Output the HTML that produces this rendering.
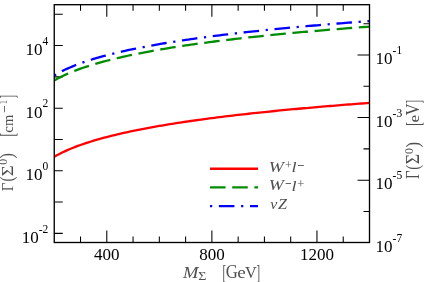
<!DOCTYPE html>
<html><head><meta charset="utf-8"><style>
html,body{margin:0;padding:0;background:#fff;overflow:hidden;}
svg{display:block;will-change:transform;}
text{font-family:"Liberation Serif",serif;}
</style></head><body>
<svg width="424" height="282" viewBox="0 0 424 282">
<rect width="424" height="282" fill="#fff"/>
<defs><clipPath id="c"><rect x="54.25" y="4.7" width="315.25" height="237.80"/></clipPath></defs>
<path d="M54.25 14.25h8.5M54.25 45.55h8.5M54.25 76.85h8.5M54.25 108.15h8.5M54.25 139.45h8.5M54.25 170.75h8.5M54.25 202.05h8.5M54.25 233.35h8.5M369.5 211.45h-6M369.5 180.15h-12M369.5 148.85h-6M369.5 117.55h-12M369.5 86.25h-6M369.5 54.95h-12M369.5 23.65h-6M80.52 242.5v-6M80.52 4.7v6M106.79 242.5v-12M106.79 4.7v12M133.06 242.5v-6M133.06 4.7v6M159.33 242.5v-6M159.33 4.7v6M185.60 242.5v-6M185.60 4.7v6M211.88 242.5v-12M211.88 4.7v12M238.15 242.5v-6M238.15 4.7v6M264.42 242.5v-6M264.42 4.7v6M290.69 242.5v-6M290.69 4.7v6M316.96 242.5v-12M316.96 4.7v12M343.23 242.5v-6M343.23 4.7v6" stroke="#000" stroke-width="1.05" fill="none"/>
<g clip-path="url(#c)" fill="none" stroke-width="2.3">
<path d="M54.25 156.80 L56.88 155.30 L59.50 153.90 L62.13 152.59 L64.76 151.34 L67.39 150.16 L70.01 149.04 L72.64 147.96 L75.27 146.93 L77.89 145.94 L80.52 144.99 L83.15 144.08 L85.78 143.19 L88.40 142.34 L91.03 141.51 L93.66 140.71 L96.28 139.93 L98.91 139.18 L101.54 138.44 L104.16 137.73 L106.79 137.04 L109.42 136.36 L112.05 135.70 L114.67 135.05 L117.30 134.42 L119.93 133.81 L122.55 133.21 L125.18 132.62 L127.81 132.05 L130.44 131.48 L133.06 130.93 L135.69 130.39 L138.32 129.86 L140.94 129.34 L143.57 128.83 L146.20 128.33 L148.82 127.84 L151.45 127.36 L154.08 126.88 L156.71 126.42 L159.33 125.96 L161.96 125.51 L164.59 125.07 L167.21 124.63 L169.84 124.20 L172.47 123.78 L175.10 123.36 L177.72 122.96 L180.35 122.55 L182.98 122.15 L185.60 121.76 L188.23 121.38 L190.86 121.00 L193.49 120.62 L196.11 120.25 L198.74 119.89 L201.37 119.53 L203.99 119.17 L206.62 118.82 L209.25 118.47 L211.88 118.13 L214.50 117.79 L217.13 117.46 L219.76 117.13 L222.38 116.80 L225.01 116.48 L227.64 116.16 L230.26 115.85 L232.89 115.54 L235.52 115.23 L238.15 114.93 L240.77 114.63 L243.40 114.33 L246.03 114.03 L248.65 113.74 L251.28 113.46 L253.91 113.17 L256.54 112.89 L259.16 112.61 L261.79 112.33 L264.42 112.06 L267.04 111.79 L269.67 111.52 L272.30 111.26 L274.92 110.99 L277.55 110.73 L280.18 110.48 L282.81 110.22 L285.43 109.97 L288.06 109.72 L290.69 109.47 L293.31 109.22 L295.94 108.98 L298.57 108.74 L301.20 108.50 L303.82 108.26 L306.45 108.03 L309.08 107.79 L311.70 107.56 L314.33 107.33 L316.96 107.10 L319.59 106.88 L322.21 106.65 L324.84 106.43 L327.47 106.21 L330.09 105.99 L332.72 105.78 L335.35 105.56 L337.97 105.35 L340.60 105.14 L343.23 104.93 L345.86 104.72 L348.48 104.51 L351.11 104.31 L353.74 104.10 L356.36 103.90 L358.99 103.70 L361.62 103.50 L364.25 103.30 L366.87 103.11 L369.50 102.91" stroke="#ff0000"/>
<path d="M54.25 80.50 L56.88 79.00 L59.50 77.60 L62.13 76.29 L64.76 75.04 L67.39 73.86 L70.01 72.74 L72.64 71.66 L75.27 70.63 L77.89 69.64 L80.52 68.69 L83.15 67.78 L85.78 66.89 L88.40 66.04 L91.03 65.21 L93.66 64.41 L96.28 63.63 L98.91 62.88 L101.54 62.14 L104.16 61.43 L106.79 60.74 L109.42 60.06 L112.05 59.40 L114.67 58.75 L117.30 58.12 L119.93 57.51 L122.55 56.91 L125.18 56.32 L127.81 55.75 L130.44 55.18 L133.06 54.63 L135.69 54.09 L138.32 53.56 L140.94 53.04 L143.57 52.53 L146.20 52.03 L148.82 51.54 L151.45 51.06 L154.08 50.58 L156.71 50.12 L159.33 49.66 L161.96 49.21 L164.59 48.77 L167.21 48.33 L169.84 47.90 L172.47 47.48 L175.10 47.06 L177.72 46.66 L180.35 46.25 L182.98 45.85 L185.60 45.46 L188.23 45.08 L190.86 44.70 L193.49 44.32 L196.11 43.95 L198.74 43.59 L201.37 43.23 L203.99 42.87 L206.62 42.52 L209.25 42.17 L211.88 41.83 L214.50 41.49 L217.13 41.16 L219.76 40.83 L222.38 40.50 L225.01 40.18 L227.64 39.86 L230.26 39.55 L232.89 39.24 L235.52 38.93 L238.15 38.63 L240.77 38.33 L243.40 38.03 L246.03 37.73 L248.65 37.44 L251.28 37.16 L253.91 36.87 L256.54 36.59 L259.16 36.31 L261.79 36.03 L264.42 35.76 L267.04 35.49 L269.67 35.22 L272.30 34.96 L274.92 34.69 L277.55 34.43 L280.18 34.18 L282.81 33.92 L285.43 33.67 L288.06 33.42 L290.69 33.17 L293.31 32.92 L295.94 32.68 L298.57 32.44 L301.20 32.20 L303.82 31.96 L306.45 31.73 L309.08 31.49 L311.70 31.26 L314.33 31.03 L316.96 30.80 L319.59 30.58 L322.21 30.35 L324.84 30.13 L327.47 29.91 L330.09 29.69 L332.72 29.48 L335.35 29.26 L337.97 29.05 L340.60 28.84 L343.23 28.63 L345.86 28.42 L348.48 28.21 L351.11 28.01 L353.74 27.80 L356.36 27.60 L358.99 27.40 L361.62 27.20 L364.25 27.00 L366.87 26.81 L369.50 26.61" stroke="#008c00" stroke-dasharray="15.54 6.66"/>
<path d="M54.25 75.60 L56.88 73.99 L59.50 72.51 L62.13 71.12 L64.76 69.82 L67.39 68.60 L70.01 67.44 L72.64 66.33 L75.27 65.28 L77.89 64.27 L80.52 63.30 L83.15 62.37 L85.78 61.47 L88.40 60.60 L91.03 59.77 L93.66 58.96 L96.28 58.17 L98.91 57.41 L101.54 56.67 L104.16 55.95 L106.79 55.25 L109.42 54.57 L112.05 53.91 L114.67 53.26 L117.30 52.63 L119.93 52.01 L122.55 51.41 L125.18 50.82 L127.81 50.24 L130.44 49.68 L133.06 49.12 L135.69 48.58 L138.32 48.05 L140.94 47.53 L143.57 47.02 L146.20 46.52 L148.82 46.03 L151.45 45.54 L154.08 45.07 L156.71 44.60 L159.33 44.14 L161.96 43.69 L164.59 43.25 L167.21 42.81 L169.84 42.38 L172.47 41.96 L175.10 41.55 L177.72 41.14 L180.35 40.73 L182.98 40.33 L185.60 39.94 L188.23 39.56 L190.86 39.18 L193.49 38.80 L196.11 38.43 L198.74 38.06 L201.37 37.70 L203.99 37.35 L206.62 37.00 L209.25 36.65 L211.88 36.31 L214.50 35.97 L217.13 35.64 L219.76 35.31 L222.38 34.98 L225.01 34.66 L227.64 34.34 L230.26 34.03 L232.89 33.71 L235.52 33.41 L238.15 33.10 L240.77 32.80 L243.40 32.51 L246.03 32.21 L248.65 31.92 L251.28 31.63 L253.91 31.35 L256.54 31.07 L259.16 30.79 L261.79 30.51 L264.42 30.24 L267.04 29.97 L269.67 29.70 L272.30 29.43 L274.92 29.17 L277.55 28.91 L280.18 28.65 L282.81 28.40 L285.43 28.14 L288.06 27.89 L290.69 27.65 L293.31 27.40 L295.94 27.16 L298.57 26.91 L301.20 26.67 L303.82 26.44 L306.45 26.20 L309.08 25.97 L311.70 25.74 L314.33 25.51 L316.96 25.28 L319.59 25.05 L322.21 24.83 L324.84 24.61 L327.47 24.39 L330.09 24.17 L332.72 23.95 L335.35 23.74 L337.97 23.52 L340.60 23.31 L343.23 23.10 L345.86 22.89 L348.48 22.69 L351.11 22.48 L353.74 22.28 L356.36 22.08 L358.99 21.88 L361.62 21.68 L364.25 21.48 L366.87 21.28 L369.50 21.09" stroke="#0000ff" stroke-dasharray="2.22 6.66 15.54 6.66"/>
</g>
<rect x="54.25" y="4.7" width="315.25" height="237.80" stroke="#000" stroke-width="1.35" fill="none"/>
<g fill="none" stroke-width="2.3"><path d="M210 168.75H258" stroke="#ff0000"/><path d="M210 187.4H258" stroke="#008c00" stroke-dasharray="15.54 6.66"/><path d="M210 206.2H258" stroke="#0000ff" stroke-dasharray="2.22 6.66 15.54 6.66"/></g>
<text x="48.3" y="55.00" font-size="17" text-anchor="end">10<tspan font-size="11.5" dy="-10.2">4</tspan></text>
<text x="48.3" y="117.60" font-size="17" text-anchor="end">10<tspan font-size="11.5" dy="-10.2">2</tspan></text>
<text x="48.3" y="180.20" font-size="17" text-anchor="end">10<tspan font-size="11.5" dy="-10.2">0</tspan></text>
<text x="48.3" y="242.80" font-size="17" text-anchor="end">10<tspan font-size="11.5" dy="-10.2">-2</tspan></text>
<text x="375.6" y="64.10" font-size="17" text-anchor="start">10<tspan font-size="11.5" dy="-10.2">-1</tspan></text>
<text x="375.6" y="126.70" font-size="17" text-anchor="start">10<tspan font-size="11.5" dy="-10.2">-3</tspan></text>
<text x="375.6" y="189.30" font-size="17" text-anchor="start">10<tspan font-size="11.5" dy="-10.2">-5</tspan></text>
<text x="375.6" y="251.90" font-size="17" text-anchor="start">10<tspan font-size="11.5" dy="-10.2">-7</tspan></text>
<text x="106.79" y="260.2" font-size="17" text-anchor="middle">400</text>
<text x="211.88" y="260.2" font-size="17" text-anchor="middle">800</text>
<text x="316.96" y="260.2" font-size="17" text-anchor="middle">1200</text>
<g fill="#4e4e4e"><text transform="translate(183.02,277.60) scale(0.1853,0.1772)" font-size="100" font-style="italic">M</text><text transform="translate(198.25,279.70) scale(0.1401,0.1145)" font-size="100">Σ</text><text transform="translate(222.60,278.80) scale(0.1078,0.2018)" font-size="100">[</text><text transform="translate(225.81,277.63) scale(0.1677,0.1786)" font-size="100">G</text><text transform="translate(237.15,277.64) scale(0.1918,0.1663)" font-size="100">e</text><text transform="translate(245.02,277.53) scale(0.1629,0.1761)" font-size="100">V</text><text transform="translate(256.61,278.80) scale(0.1078,0.2018)" font-size="100">]</text></g>
<g fill="#4e4e4e" transform="translate(13,191) rotate(-90)"><text transform="translate(-0.23,0.00) scale(0.1508,0.1756)" font-size="100">Γ</text><text transform="translate(9.43,0.31) scale(0.1518,0.1919)" font-size="100">(</text><text transform="translate(14.76,0.00) scale(0.1888,0.1772)" font-size="100">Σ</text><text transform="translate(26.15,-5.82) scale(0.1180,0.1230)" font-size="100">0</text><text transform="translate(32.47,0.31) scale(0.1635,0.1919)" font-size="100">)</text><text transform="translate(54.40,1.25) scale(0.1078,0.2054)" font-size="100">[</text><text transform="translate(58.23,0.05) scale(0.1493,0.1539)" font-size="100">c</text><text transform="translate(64.99,0.00) scale(0.1457,0.1528)" font-size="100">m</text><text transform="translate(77.93,-3.47) scale(0.1354,0.1606)" font-size="100">−</text><text transform="translate(86.65,-6.30) scale(0.0852,0.1166)" font-size="100">1</text><text transform="translate(92.51,1.25) scale(0.1078,0.2054)" font-size="100">]</text></g>
<g fill="#4e4e4e" transform="translate(418.8,178.8) rotate(-90)"><text transform="translate(-0.22,0.00) scale(0.1470,0.1787)" font-size="100">Γ</text><text transform="translate(8.97,0.06) scale(0.1441,0.1897)" font-size="100">(</text><text transform="translate(14.60,0.00) scale(0.1786,0.1787)" font-size="100">Σ</text><text transform="translate(24.75,-6.02) scale(0.1180,0.1274)" font-size="100">0</text><text transform="translate(31.36,0.06) scale(0.1674,0.1897)" font-size="100">)</text><text transform="translate(52.97,1.32) scale(0.1123,0.2078)" font-size="100">[</text><text transform="translate(56.22,0.05) scale(0.1729,0.1559)" font-size="100">e</text><text transform="translate(63.21,-0.07) scale(0.1672,0.1791)" font-size="100">V</text><text transform="translate(75.21,1.32) scale(0.1078,0.2078)" font-size="100">]</text></g>
<g fill="#4e4e4e"><text transform="translate(268.80,171.68) scale(0.1815,0.1433)" font-size="100" font-style="italic">W</text><text transform="translate(291.53,172.00) scale(0.1826,0.1441)" font-size="100" font-style="italic">l</text><text transform="translate(284.92,168.87) scale(0.1160,0.1181)" font-size="100">+</text><text transform="translate(297.17,170.59) scale(0.1268,0.1707)" font-size="100">−</text><text transform="translate(268.80,190.48) scale(0.1815,0.1433)" font-size="100" font-style="italic">W</text><text transform="translate(291.53,190.80) scale(0.1826,0.1441)" font-size="100" font-style="italic">l</text><text transform="translate(284.92,189.39) scale(0.1160,0.1707)" font-size="100">−</text><text transform="translate(297.17,187.67) scale(0.1268,0.1181)" font-size="100">+</text><text transform="translate(270.28,209.36) scale(0.1581,0.1429)" font-size="100" font-style="italic">ν</text><text transform="translate(278.10,209.40) scale(0.1612,0.1436)" font-size="100" font-style="italic">Z</text></g>
</svg>
</body></html>
